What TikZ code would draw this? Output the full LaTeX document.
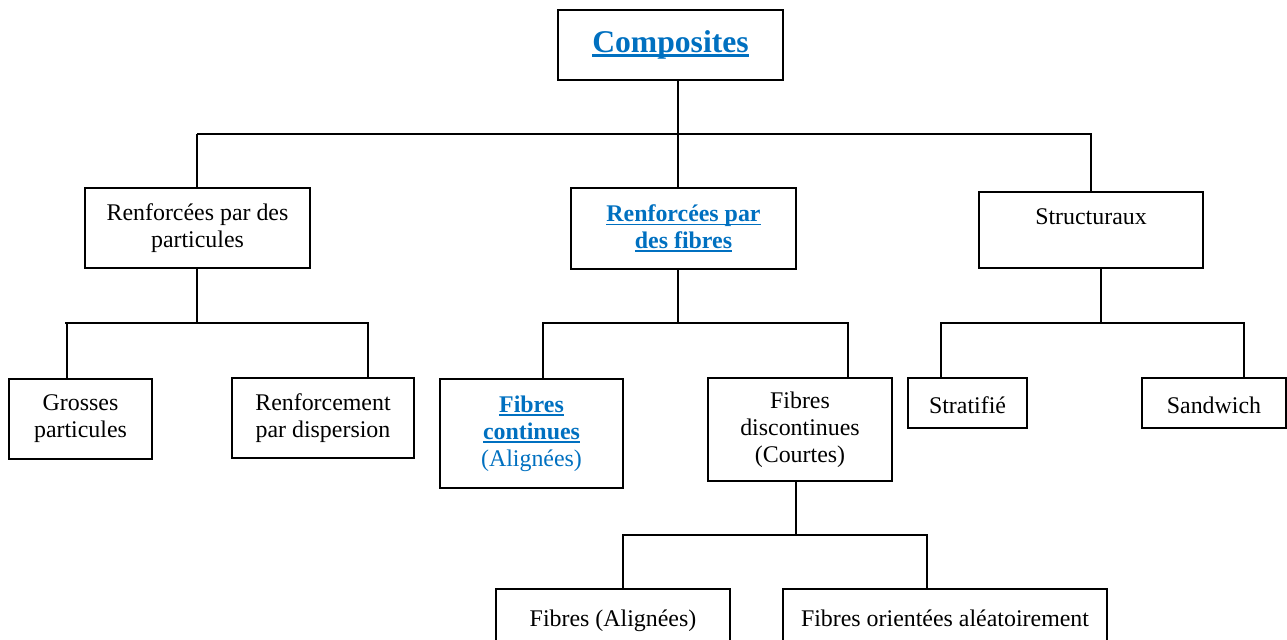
\documentclass[tikz,border=0pt]{standalone}
\usepackage{fontspec}
\setmainfont{Liberation Serif}
\usepackage{tikz}
\definecolor{linkblue}{HTML}{0070C0}
\newlength{\ulth}\setlength{\ulth}{1.1pt}
\newcommand{\lnk}[1]{\textcolor{linkblue}{\bfseries\setbox0\hbox{#1}%
    \rlap{\rule[-2.3pt]{\wd0}{\ulth}}\box0}}
\tikzset{
    box/.style={draw, line width=1.1pt, align=center, inner sep=0pt,
        font=\fontsize{13.6}{15.3}\selectfont},
    onerow/.style={text height=12.5pt, text depth=1pt},
    tree/.style={line width=1.1pt}
}

\begin{document}
\begin{tikzpicture}[x=0.02cm, y=-0.02cm]
    \clip (0,0) rectangle (1287,639); % page size of the reference
    % level 0
    \node[box, minimum width=4.5cm, minimum height=1.4cm,
        font=\fontsize{18}{21}\selectfont] (comp) at (670.5,45)
        {\setlength{\ulth}{1.5pt}\lnk{Composites}};
    % level 1
    \node[box, minimum width=4.5cm, minimum height=1.6cm] (partic) at (197.5,228) {Renforcées par des\\particules};
    \node[box, minimum width=4.5cm, minimum height=1.62cm] (fibres) at (683.5,228.5) {\lnk{Renforcées par}\\\lnk{des fibres}};
    \node[box, minimum width=4.48cm, minimum height=1.52cm] (struct) at (1091,230) {Structuraux\\\mbox{}};
    % level 2
    \node[box, minimum width=2.86cm, minimum height=1.6cm] (gross) at (80.5,419) {Grosses\\particules};
    \node[box, minimum width=3.64cm, minimum height=1.6cm] (disp) at (323,418) {Renforcement\\par dispersion};
    \node[box, minimum width=3.66cm, minimum height=2.18cm] (cont) at (531.5,433.5) {\lnk{Fibres}\\\lnk{continues}\\\textcolor{linkblue}{(Alignées)}};
    \node[box, minimum width=3.68cm, minimum height=2.06cm] (discont) at (800,429.5) {Fibres\\discontinues\\(Courtes)};
    \node[box, onerow, minimum width=2.38cm, minimum height=1cm] (strat) at (967.5,403) {Stratifié};
    \node[box, onerow, minimum width=2.88cm, minimum height=1cm] (sandw) at (1214,403) {Sandwich};
    % level 3
    \node[box, onerow, minimum width=4.68cm, minimum height=1.08cm] (align) at (613,616) {Fibres (Alignées)};
    \node[box, onerow, minimum width=6.48cm, minimum height=1.08cm] (orient) at (945,616) {Fibres orientées aléatoirement};

    % junctions
    \coordinate (t0) at (678,134);
    \coordinate (t1) at (197,323);
    \coordinate (t1a) at (67,323);
    \coordinate (t1b) at (368,323);
    \coordinate (t2) at (678,323);
    \coordinate (t2a) at (543,323);
    \coordinate (t2b) at (848,323);
    \coordinate (t3) at (1101,323);
    \coordinate (t3a) at (941,323);
    \coordinate (t3b) at (1244,323);
    \coordinate (t4) at (796,535);
    \coordinate (t4a) at (623,535);
    \coordinate (t4b) at (927,535);

    \draw[tree] (t0 |- comp.south) -- (t0);
    \draw[tree] (t1 |- t0) -- (t0) -| (struct.north);
    \draw[tree] (t1 |- t0) -- (t1 |- partic.north);
    \draw[tree] (t0) -- (t0 |- fibres.north);

    \draw[tree] (t1 |- partic.south) -- (t1);
    \draw[tree] (t1a |- gross.north) -- (t1a) -- (t1b) -- (t1b |- disp.north);
    \draw[tree] (t1a) -- ++(-2,0);

    \draw[tree] (t2 |- fibres.south) -- (t2);
    \draw[tree] (t2a |- cont.north) -- (t2a) -- (t2b) -- (t2b |- discont.north);

    \draw[tree] (t3 |- struct.south) -- (t3);
    \draw[tree] (t3a |- strat.north) -- (t3a) -- (t3b) -- (t3b |- sandw.north);

    \draw[tree] (t4 |- discont.south) -- (t4);
    \draw[tree] (t4a |- align.north) -- (t4a) -- (t4b) -- (t4b |- orient.north);
\end{tikzpicture}
\end{document}
